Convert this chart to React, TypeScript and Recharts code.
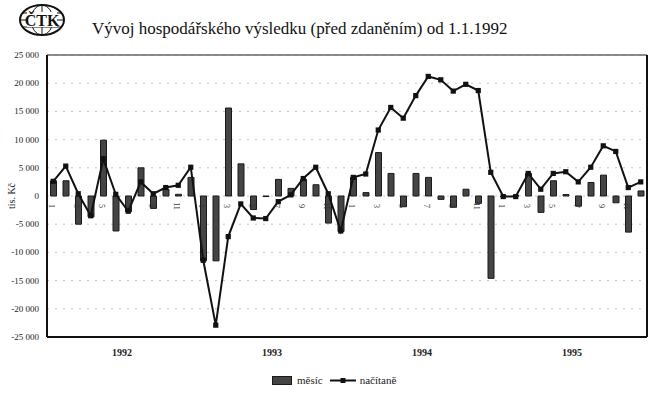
import React from 'react';
import { ComposedChart, Bar, Line, XAxis, YAxis, CartesianGrid, LabelList } from 'recharts';

const years = ['1992', '1993', '1994', '1995'];
const monthNumbers = [1, 2, 3, 4, 5, 6, 7, 8, 9, 10, 11, 12];

const mesic1992 = [2700, 2700, -5000, -3700, 9900, -6200, -2800, 5000, -2200, 1200, 300, 3300];
const mesic1993 = [-11500, -11500, 15600, 5700, -2400, -100, 2950, 1350, 2950, 2000, -4800, -6300];
const mesic1994 = [3300, 600, 7700, 4000, -1900, 4000, 3300, -600, -2000, 1200, -1300, -14600];
const mesic1995 = [-150, 50, 4000, -2900, 2700, 250, -1800, 2400, 3700, -1200, -6400, 900];

const nacitane1992 = [2600, 5300, 400, -3500, 6600, 300, -2700, 2500, 400, 1500, 1900, 5100];
const nacitane1993 = [-11400, -22900, -7200, -1400, -3900, -4000, -1000, 200, 3100, 5100, 400, -6200];
const nacitane1994 = [3300, 3900, 11700, 15700, 13800, 17800, 21200, 20600, 18600, 19800, 18700, 4200];
const nacitane1995 = [-100, -100, 4000, 1200, 4000, 4300, 2500, 5100, 8900, 7900, 1500, 2500];

const yTicks = [-25000, -20000, -15000, -10000, -5000, 0, 5000, 10000, 15000, 20000, 25000];
const yearTicks = [6, 18, 30, 42];

const mesic = [...mesic1992, ...mesic1993, ...mesic1994, ...mesic1995];
const nacitane = [...nacitane1992, ...nacitane1993, ...nacitane1994, ...nacitane1995];

const data = mesic.map((v, i) => ({
  key: `${years[Math.floor(i / 12)]}-${monthNumbers[i % 12]}`,
  month: monthNumbers[i % 12],
  pos: i + 0.5,
  mesic: v,
  nacitane: nacitane[i],
  base: 0,
}));

const SERIF = '"Liberation Serif", "Times New Roman", "DejaVu Serif", serif';

const fmt = (v: number) => {
  const s = Math.abs(v).toString();
  const withSpace = s.length > 3 ? s.slice(0, s.length - 3) + '\u00a0' + s.slice(-3) : s;
  return (v < 0 ? '-' : '') + withSpace;
};

const SquareDot = (props: any) => {
  const { cx, cy, index } = props;
  if (cx == null || cy == null) return <g key={`d${index}`} />;
  return <rect key={`d${index}`} x={cx - 2.6} y={cy - 2.6} width={5.2} height={5.2} fill="#111" />;
};

const MonthLabel = (props: any) => {
  const { x, y, index } = props;
  const m = data[index]?.month;
  if (m == null || m % 2 === 0) return null;
  const lx = x - 2;
  const ly = y + 10;
  return (
    <text
      x={lx}
      y={ly}
      transform={`rotate(90, ${lx}, ${ly})`}
      textAnchor="middle"
      dominantBaseline="central"
      fontSize={8}
      fontFamily={SERIF}
      fill="#333"
    >
      {m}
    </text>
  );
};

const YTick = (props: any) => {
  const { x, y, payload } = props;
  return (
    <text
      x={x}
      y={y}
      textAnchor="end"
      dominantBaseline="central"
      fontSize={9}
      fontFamily={SERIF}
      fill="#222"
    >
      {fmt(payload.value)}
    </text>
  );
};

const YearTick = (props: any) => {
  const { x, y, payload } = props;
  return (
    <text
      x={x}
      y={y}
      textAnchor="middle"
      dominantBaseline="hanging"
      fontSize={10}
      fontWeight="bold"
      fontFamily={SERIF}
      fill="#222"
    >
      {years[Math.floor(payload.value / 12)]}
    </text>
  );
};

const YLabel = (props: any) => {
  const vb = props.viewBox || {};
  const x = (vb.x ?? 0) + 4;
  const y = (vb.y ?? 0) + (vb.height ?? 0) / 2;
  return (
    <text
      x={x}
      y={y}
      transform={`rotate(-90, ${x}, ${y})`}
      textAnchor="middle"
      dominantBaseline="central"
      fontSize={10}
      fontFamily={SERIF}
      fill="#222"
    >
      tis. Kč
    </text>
  );
};

const LegendBox = () => (
  <div
    style={{
      position: 'absolute',
      left: 272,
      top: 372,
      display: 'flex',
      alignItems: 'center',
      fontFamily: SERIF,
      fontSize: 11,
      color: '#222',
      height: 16,
      whiteSpace: 'nowrap',
    }}
  >
    <svg width={20} height={9} style={{ display: 'block' }}>
      <rect x={0.5} y={0.5} width={19} height={8} fill="#444" stroke="#1a1a1a" />
    </svg>
    <span style={{ marginLeft: 5 }}>měsíc</span>
    <svg width={28} height={9} style={{ display: 'block', marginLeft: 6 }}>
      <line x1={1} y1={4.5} x2={27} y2={4.5} stroke="#111" strokeWidth={2} />
      <rect x={11.5} y={2} width={5} height={5} fill="#111" />
    </svg>
    <span style={{ marginLeft: 3 }}>načítaně</span>
  </div>
);

const Logo = () => (
  <svg width={90} height={45} style={{ position: 'absolute', left: 0, top: 0 }}>
    <ellipse cx={42} cy={20} rx={22} ry={15} fill="#fff" stroke="#111" strokeWidth={2} />
    <ellipse cx={42} cy={20} rx={11} ry={15} fill="none" stroke="#111" strokeWidth={1} />
    <line x1={42} y1={5} x2={42} y2={35} stroke="#111" strokeWidth={1} />
    <line x1={22} y1={13} x2={62} y2={13} stroke="#111" strokeWidth={1} />
    <line x1={22} y1={27} x2={62} y2={27} stroke="#111" strokeWidth={1} />
    <line x1={20} y1={20} x2={64} y2={20} stroke="#111" strokeWidth={1} />
    <rect x={27} y={12} width={30} height={15} fill="#fff" />
    <text
      x={42}
      y={25.5}
      textAnchor="middle"
      fontFamily={SERIF}
      fontWeight="bold"
      fontSize={16}
      fill="#111"
    >
      ČTK
    </text>
  </svg>
);

export default function App() {
  return (
    <div style={{ position: 'absolute', left: 0, top: 0, width: 653, height: 393, background: '#fff' }}>
      <Logo />
      <div
        style={{
          position: 'absolute',
          left: 92,
          top: 19,
          fontFamily: SERIF,
          fontSize: 17,
          color: '#111',
          whiteSpace: 'nowrap',
          lineHeight: '20px',
        }}
      >
        Vývoj hospodářského výsledku (před zdaněním) od 1.1.1992
      </div>
      <ComposedChart
        width={653}
        height={393}
        data={data}
        margin={{ top: 54, right: 5, bottom: 26, left: 7 }}
        barCategoryGap="28%"
      >
        <CartesianGrid
          xAxisId="year"
          yAxisId={0}
          vertical={false}
          stroke="#c4c4c4"
          strokeDasharray="2 6"
        />
        <XAxis
          xAxisId="year"
          dataKey="pos"
          type="number"
          domain={[0, 48]}
          allowDataOverflow
          ticks={yearTicks}
          tickLine={false}
          stroke="#111"
          strokeWidth={2}
          axisLine
          tick={<YearTick />}
          tickMargin={6}
          height={30}
        />
        <XAxis xAxisId="m" dataKey="key" hide height={0} />
        <XAxis
          xAxisId="top"
          dataKey="key"
          orientation="top"
          tick={false}
          tickLine={false}
          height={1}
          stroke="#666"
          strokeWidth={1.5}
        />
        <YAxis
          domain={[-25000, 25000]}
          ticks={yTicks}
          tickLine={false}
          stroke="#111"
          strokeWidth={2}
          tick={<YTick />}
          tickMargin={2}
          width={40}
          interval={0}
          label={<YLabel />}
        />
        <YAxis
          yAxisId="r"
          orientation="right"
          domain={[-25000, 25000]}
          tick={false}
          tickLine={false}
          width={1}
          stroke="#111"
          strokeWidth={2}
        />
        <Bar
          xAxisId="m"
          dataKey="mesic"
          name="měsíc"
          fill="#444"
          stroke="#1a1a1a"
          strokeWidth={1}
          isAnimationActive={false}
        />
        <Line
          xAxisId="m"
          dataKey="nacitane"
          name="načítaně"
          type="linear"
          stroke="#111"
          strokeWidth={2}
          dot={<SquareDot />}
          activeDot={false}
          isAnimationActive={false}
        />
        <Line
          xAxisId="year"
          dataKey="base"
          stroke="none"
          dot={false}
          activeDot={false}
          legendType="none"
          isAnimationActive={false}
        >
          <LabelList dataKey="month" content={<MonthLabel />} />
        </Line>
      </ComposedChart>
      <LegendBox />
    </div>
  );
}
